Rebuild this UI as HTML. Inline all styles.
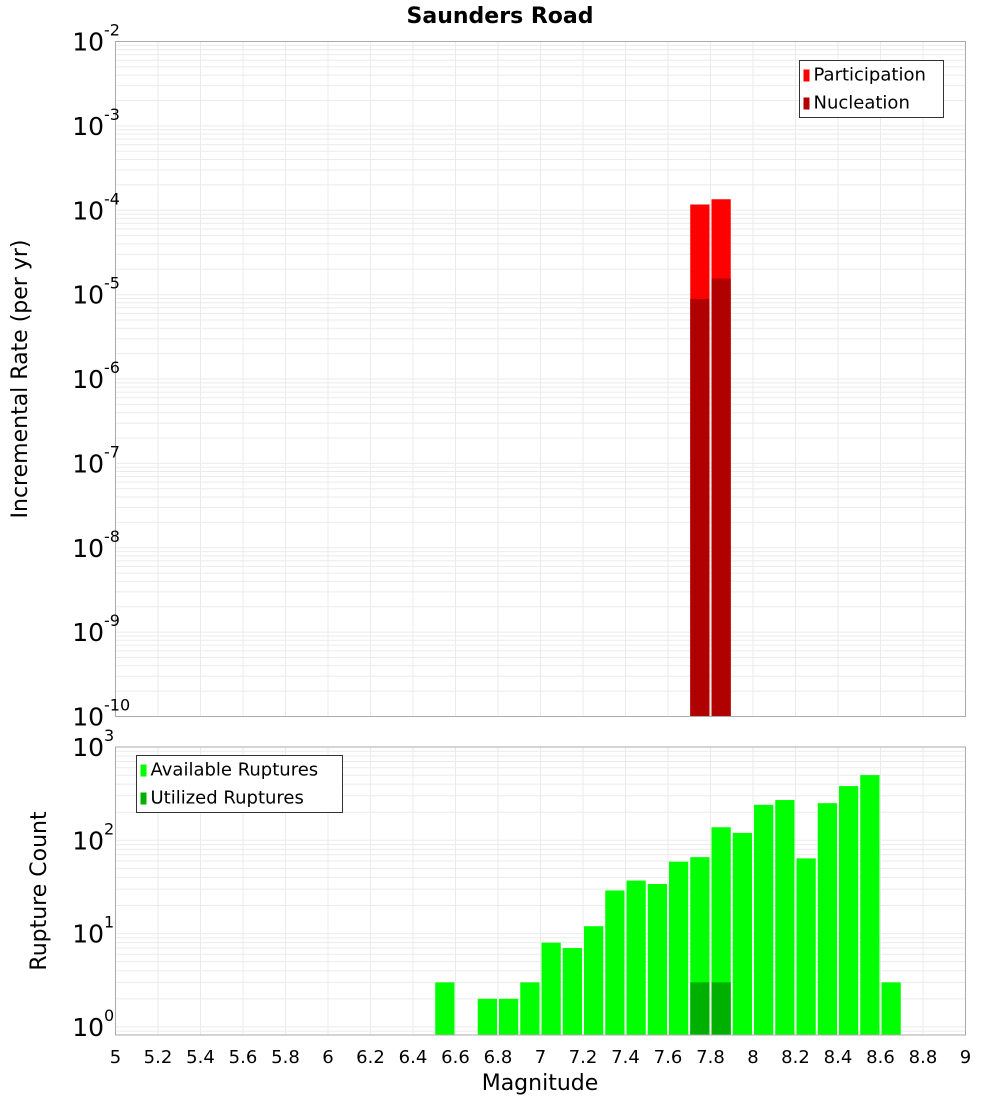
<!DOCTYPE html>
<html><head><meta charset="utf-8"><style>
html,body{margin:0;padding:0;background:#fff}
svg{display:block;font-family:"DejaVu Sans","Liberation Sans",sans-serif}
</style></head><body>
<svg id="c" width="1000" height="1100" xmlns="http://www.w3.org/2000/svg"></svg>
<script>
const topBins=[7.75,7.85];
const participation=[1.17e-4,1.35e-4];
const nucleation=[8.9e-6,1.55e-5];
const botBins=[6.55,6.75,6.85,6.95,7.05,7.15,7.25,7.35,7.45,7.55,7.65,7.75,7.85,7.95,8.05,8.15,8.25,8.35,8.45,8.55,8.65];
const available=[3,2,2,3,8,7,12,29,37,34,59,66,138,120,240,270,64,250,381,500,3];
const utilBins=[7.75,7.85];
const utilized=[3,3];
const xTicks=[5,5.2,5.4,5.6,5.8,6,6.2,6.4,6.6,6.8,7,7.2,7.4,7.6,7.8,8,8.2,8.4,8.6,8.8,9];
const xTickLabels=["5","5.2","5.4","5.6","5.8","6","6.2","6.4","6.6","6.8","7","7.2","7.4","7.6","7.8","8","8.2","8.4","8.6","8.8","9"];
const topExp=[-2,-3,-4,-5,-6,-7,-8,-9,-10];
const botExp=[3,2,1,0];

const svg=document.getElementById('c');
const NS='http://www.w3.org/2000/svg';
function mk(t,a,p){const e=document.createElementNS(NS,t);for(const k in a)e.setAttribute(k,a[k]);(p||svg).appendChild(e);return e;}
const L=115.5,R=965.5;
const x=m=>L+(m-5)*(R-L)/4;
const T1=41.5,B1=716.5;
const y1=v=>T1+(-2-Math.log10(v))*(B1-T1)/8;
const T2=747,B2=1035,dec2=93.3;
const y2=v=>T2+(3-Math.log10(v))*dec2;

function grid(top,bot,yf,expLo,expHi,name){
  const g=mk('g',{});
  
  
  for(let e=expLo;e<=expHi;e++)for(let k=1;k<10;k++){const yy=yf(k*Math.pow(10,e));if(yy<top-0.1||yy>bot)continue;mk('line',{x1:L,x2:R,y1:yy,y2:yy,stroke:'#ebebeb','stroke-width':1},g);}
  for(const t of xTicks){mk('line',{x1:x(t),x2:x(t),y1:top,y2:bot,stroke:'#ebebeb','stroke-width':1},g);}
}
grid(T1,B1,y1,-10,-3,'top-grid');
grid(T2,B2,y2,-1,2,'bottom-grid');

// title
let t=mk('text',{x:500,y:23,'text-anchor':'middle','font-size':22,'font-weight':'bold'});t.textContent='Saunders Road';


// top bars
const bw=(R-L)/40;
topBins.forEach((m,i)=>{
  let r=mk('rect',{x:x(m)-bw/2+1,y:y1(participation[i]),width:bw-2,height:B1-y1(participation[i]),fill:'#ff0000'});
  
  r=mk('rect',{x:x(m)-bw/2+1,y:y1(nucleation[i]),width:bw-2,height:B1-y1(nucleation[i]),fill:'#b00000'});
  
});
// bottom bars
botBins.forEach((m,i)=>{
  const r=mk('rect',{x:x(m)-bw/2+1,y:y2(available[i]),width:bw-2,height:B2-y2(available[i]),fill:'#00ff00'});
  
});
utilBins.forEach((m,i)=>{
  const r=mk('rect',{x:x(m)-bw/2+1,y:y2(utilized[i]),width:bw-2,height:B2-y2(utilized[i]),fill:'#00b000'});
  
});

// frames
let f=mk('rect',{x:L,y:T1,width:R-L,height:B1-T1,fill:'none',stroke:'#aaa'});

f=mk('rect',{x:L,y:T2,width:R-L,height:B2-T2,fill:'none',stroke:'#aaa'});


// y tick labels
function ylab(yy,e,name){
  const tx=mk('text',{x:104,y:yy+9,'text-anchor':'end','font-size':25});
  
  tx.textContent='10';
  const s=mk('text',{x:104,y:yy-6,'font-size':16});
  
  s.textContent=String(e);
}
topExp.forEach(e=>ylab(y1(Math.pow(10,e)),e,'top-y-tick-label'));
botExp.forEach(e=>ylab(y2(Math.pow(10,e)),e,'bottom-y-tick-label'));

// x tick labels
xTicks.forEach((v,i)=>{
  const tx=mk('text',{x:x(v),y:1063,'text-anchor':'middle','font-size':18});
  
  tx.textContent=xTickLabels[i];
});
t=mk('text',{x:540,y:1090,'text-anchor':'middle','font-size':22});t.textContent='Magnitude';

t=mk('text',{x:0,y:0,'text-anchor':'middle','font-size':22,transform:'translate(27,379) rotate(-90)'});t.textContent='Incremental Rate (per yr)';

t=mk('text',{x:0,y:0,'text-anchor':'middle','font-size':22,transform:'translate(46,891) rotate(-90)'});t.textContent='Rupture Count';


// legends
function legend(x0,y0,w,items,name){
  const g=mk('g',{});
  
  mk('rect',{x:x0,y:y0,width:w,height:57,fill:'#fff',stroke:'#333','stroke-width':1},g);
  items.forEach((it,i)=>{
    mk('rect',{x:x0+4,y:y0+9+i*28,width:6,height:12,fill:it[1]},g);
    const tx=mk('text',{x:x0+14,y:y0+20+i*28,'font-size':18},g);
    
    tx.textContent=it[0];
  });
}
legend(799.5,60.5,144,[['Participation','#ff0000'],['Nucleation','#b00000']],'top-legend');
legend(136.5,755.5,206,[['Available Ruptures','#00ff00'],['Utilized Ruptures','#00b000']],'bottom-legend');
</script>
</body></html>
